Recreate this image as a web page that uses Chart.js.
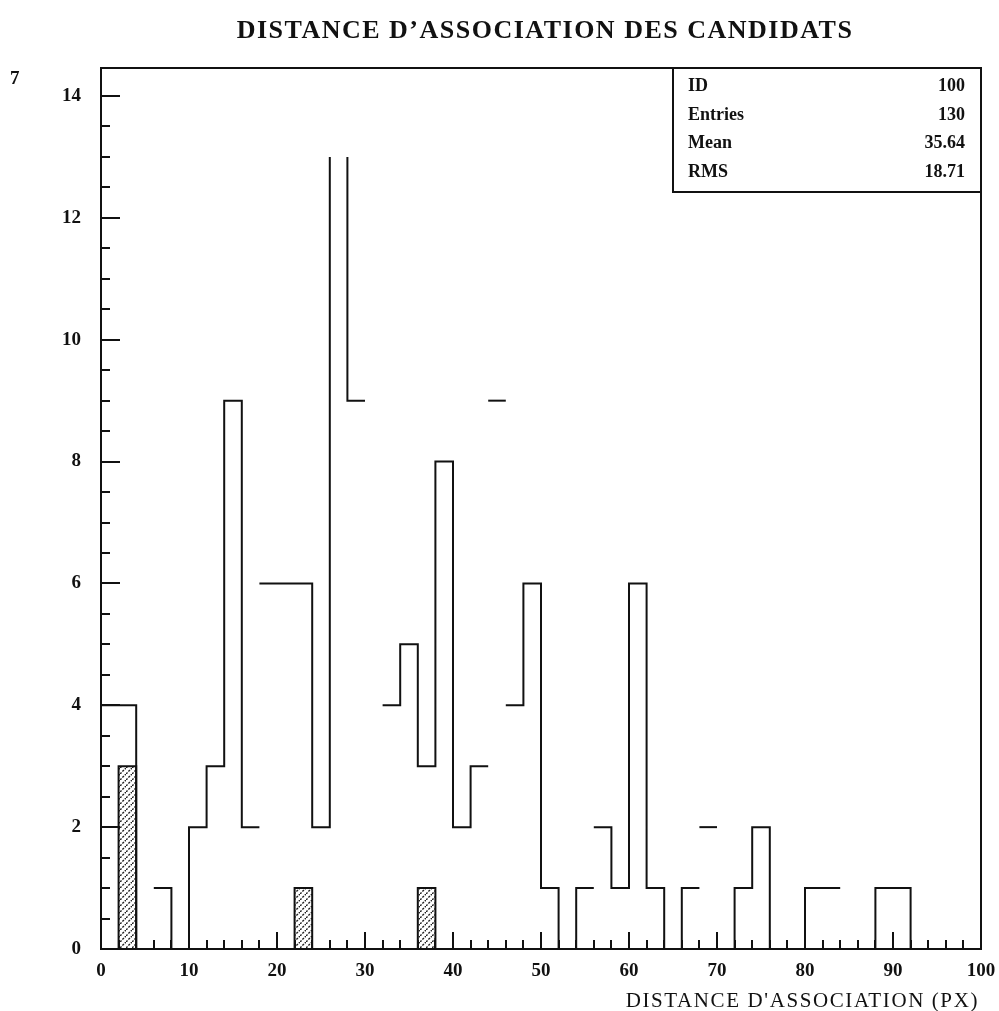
<!DOCTYPE html>
<html>
<head>
<meta charset="utf-8">
<script src="https://cdn.jsdelivr.net/npm/chart.js@4.4.1/dist/chart.umd.min.js"></script>
<style>
  html, body { margin: 0; padding: 0; background: #fff; }
</style>
</head>
<body>
<canvas id="histo" width="999" height="1011"></canvas>
<script>
(function () {
    "use strict";

    // histogram 100 : 50 bins of width 2 between 0 and 100
    var binStarts = [0, 2, 4, 6, 8, 10, 12, 14, 16, 18, 20, 22, 24, 26, 28, 30, 32, 34, 36, 38,
        40, 42, 44, 46, 48, 50, 52, 54, 56, 58, 60, 62, 64, 66, 68, 70, 72, 74, 76, 78,
        80, 82, 84, 86, 88, 90, 92, 94, 96, 98];
    var binWidth = 2;
    var counts = [4, 4, 0, 1, 0, 2, 3, 9, 2, 6, 6, 6, 2, 13, 9, 0, 4, 5, 3, 8,
        2, 3, 9, 4, 6, 1, 0, 1, 2, 1, 6, 1, 0, 1, 2, 0, 1, 2, 0, 0,
        1, 1, 0, 0, 1, 1, 0, 0, 0, 0];
    var hatchedCounts = [0, 3, 0, 0, 0, 0, 0, 0, 0, 0, 0, 1, 0, 0, 0, 0, 0, 0, 1, 0,
        0, 0, 0, 0, 0, 0, 0, 0, 0, 0, 0, 0, 0, 0, 0, 0, 0, 0, 0, 0,
        0, 0, 0, 0, 0, 0, 0, 0, 0, 0];

    var xTickLabels = [0, 10, 20, 30, 40, 50, 60, 70, 80, 90, 100];
    var yTickLabels = [0, 2, 4, 6, 8, 10, 12, 14];
    var yMax = 14.46;

    var statLabels = ['ID', 'Entries', 'Mean', 'RMS'];
    var statValues = ['100', '130', '35.64', '18.71'];

    // pieces of the outline that are not drawn in the original plot
    var undrawnRises = [6, 18, 30, 32, 44, 46, 56, 68, 70, 84];
    var undrawnTops = [26];

    var serif = '"Liberation Serif", "DejaVu Serif", serif';

    // corner points of the step outline: left and right end of each bin top
    function stepPoints(values) {
        var pts = [];
        binStarts.forEach(function (x0, i) {
            pts.push({x: x0, y: values[i]});
            pts.push({x: x0 + binWidth, y: values[i]});
        });
        return pts;
    }

    function makeHatch() {
        var c = document.createElement('canvas');
        c.width = 6; c.height = 6;
        var g = c.getContext('2d');
        g.fillStyle = '#fff';
        g.fillRect(0, 0, 6, 6);
        g.strokeStyle = '#222';
        g.lineWidth = 1.4;
        g.setLineDash([2.2, 1.2]);
        g.beginPath();
        g.moveTo(0, 6);
        g.lineTo(6, 0);
        g.stroke();
        return g.createPattern(c, 'repeat');
    }

    var outline = stepPoints(counts);

    var pawFrame = {
        id: 'pawFrame',
        afterDatasetsDraw: function (chart) {
            var ctx = chart.ctx;
            var a = chart.chartArea;
            var xs = chart.scales.x, ys = chart.scales.y;
            ctx.save();
            ctx.strokeStyle = '#111';
            ctx.lineWidth = 2;
            ctx.strokeRect(a.left, a.top, a.right - a.left, a.bottom - a.top);

            ctx.beginPath();
            // y ticks, pointing inward
            for (var v = 0; v <= 14; v += 0.5) {
                var py = Math.round(ys.getPixelForValue(v));
                var len = (v % 2 === 0) ? 19 : 9;
                ctx.moveTo(a.left, py);
                ctx.lineTo(a.left + len, py);
            }
            // x ticks, pointing inward
            for (var u = 0; u <= 100; u += 2) {
                var px = Math.round(xs.getPixelForValue(u));
                var l2 = (u % 10 === 0) ? 17 : 9;
                ctx.moveTo(px, a.bottom);
                ctx.lineTo(px, a.bottom - l2);
            }
            ctx.stroke();
            ctx.restore();
        },
        afterDraw: function (chart) {
            var ctx = chart.ctx;
            var a = chart.chartArea;
            ctx.save();
            ctx.fillStyle = '#111';

            // title
            ctx.font = 'bold 26px ' + serif;
            ctx.textAlign = 'center';
            ctx.textBaseline = 'alphabetic';
            ctx.letterSpacing = '1.5px';
            ctx.fillText("DISTANCE D\u2019ASSOCIATION DES CANDIDATS", 545, 38);

            // stray glyph at the top left
            ctx.letterSpacing = '0px';
            ctx.font = 'bold 19px ' + serif;
            ctx.textAlign = 'left';
            ctx.fillText('7', 10, 84);

            // x axis title
            ctx.font = '21px ' + serif;
            ctx.textAlign = 'right';
            ctx.letterSpacing = '1.6px';
            ctx.fillText("DISTANCE D'ASSOCIATION (PX)", 979, 1007);

            // statistics box
            var bx = 673, by = a.top, bw = a.right - 673, bh = 124;
            ctx.letterSpacing = '0px';
            ctx.fillStyle = '#fff';
            ctx.fillRect(bx, by, bw, bh);
            ctx.strokeStyle = '#111';
            ctx.lineWidth = 2;
            ctx.strokeRect(bx, by, bw, bh);
            ctx.fillStyle = '#111';
            ctx.font = 'bold 18px ' + serif;
            statLabels.forEach(function (lab, i) {
                var yy = by + 23 + i * 28.5;
                ctx.textAlign = 'left';
                ctx.fillText(lab, bx + 15, yy);
                ctx.textAlign = 'right';
                ctx.fillText(statValues[i], bx + bw - 16, yy);
            });
            ctx.restore();
        }
    };

    var ctx = document.getElementById('histo').getContext('2d');
    var chart = new Chart(ctx, {
        type: 'line',
        data: {
            datasets: [{
                label: 'all',
                data: outline,
                borderColor: '#111',
                borderWidth: 2,
                pointRadius: 0,
                fill: false,
                segment: {
                    borderColor: function (sc) {
                        var i = sc.p0DataIndex;
                        var p = outline[i];
                        if (i % 2 === 0) {
                            return undrawnTops.indexOf(p.x) >= 0 ? 'rgba(0,0,0,0)' : undefined;
                        }
                        return undrawnRises.indexOf(p.x) >= 0 ? 'rgba(0,0,0,0)' : undefined;
                    }
                }
            }, {
                label: 'selected',
                data: stepPoints(hatchedCounts),
                borderColor: '#111',
                borderWidth: 2,
                pointRadius: 0,
                backgroundColor: makeHatch(),
                fill: 'origin'
            }]
        },
        options: {
            responsive: false,
            animation: false,
            events: [],
            layout: {padding: {top: 68, right: 18, left: 0, bottom: 0}},
            scales: {
                x: {
                    type: 'linear',
                    min: 0,
                    max: 100,
                    border: {display: false},
                    grid: {display: false, drawTicks: false},
                    afterBuildTicks: function (s) {
                        s.ticks = xTickLabels.map(function (v) { return {value: v}; });
                    },
                    afterFit: function (s) {
                        s.height = 62;
                        s.paddingLeft = 0;
                        s.paddingRight = 0;
                    },
                    ticks: {
                        padding: 11,
                        maxRotation: 0,
                        autoSkip: false,
                        color: '#111',
                        font: {family: serif, size: 19, weight: 'bold'}
                    }
                },
                y: {
                    type: 'linear',
                    min: 0,
                    max: yMax,
                    border: {display: false},
                    grid: {display: false, drawTicks: false},
                    afterBuildTicks: function (s) {
                        s.ticks = yTickLabels.map(function (v) { return {value: v}; });
                    },
                    afterFit: function (s) {
                        s.width = 101;
                        s.paddingTop = 0;
                        s.paddingBottom = 0;
                    },
                    ticks: {
                        padding: 20,
                        autoSkip: false,
                        color: '#111',
                        font: {family: serif, size: 19, weight: 'bold'}
                    }
                }
            },
            plugins: {
                legend: {display: false},
                tooltip: {enabled: false},
                title: {display: false}
            }
        },
        plugins: [pawFrame]
    });
})();
</script>
</body>
</html>
